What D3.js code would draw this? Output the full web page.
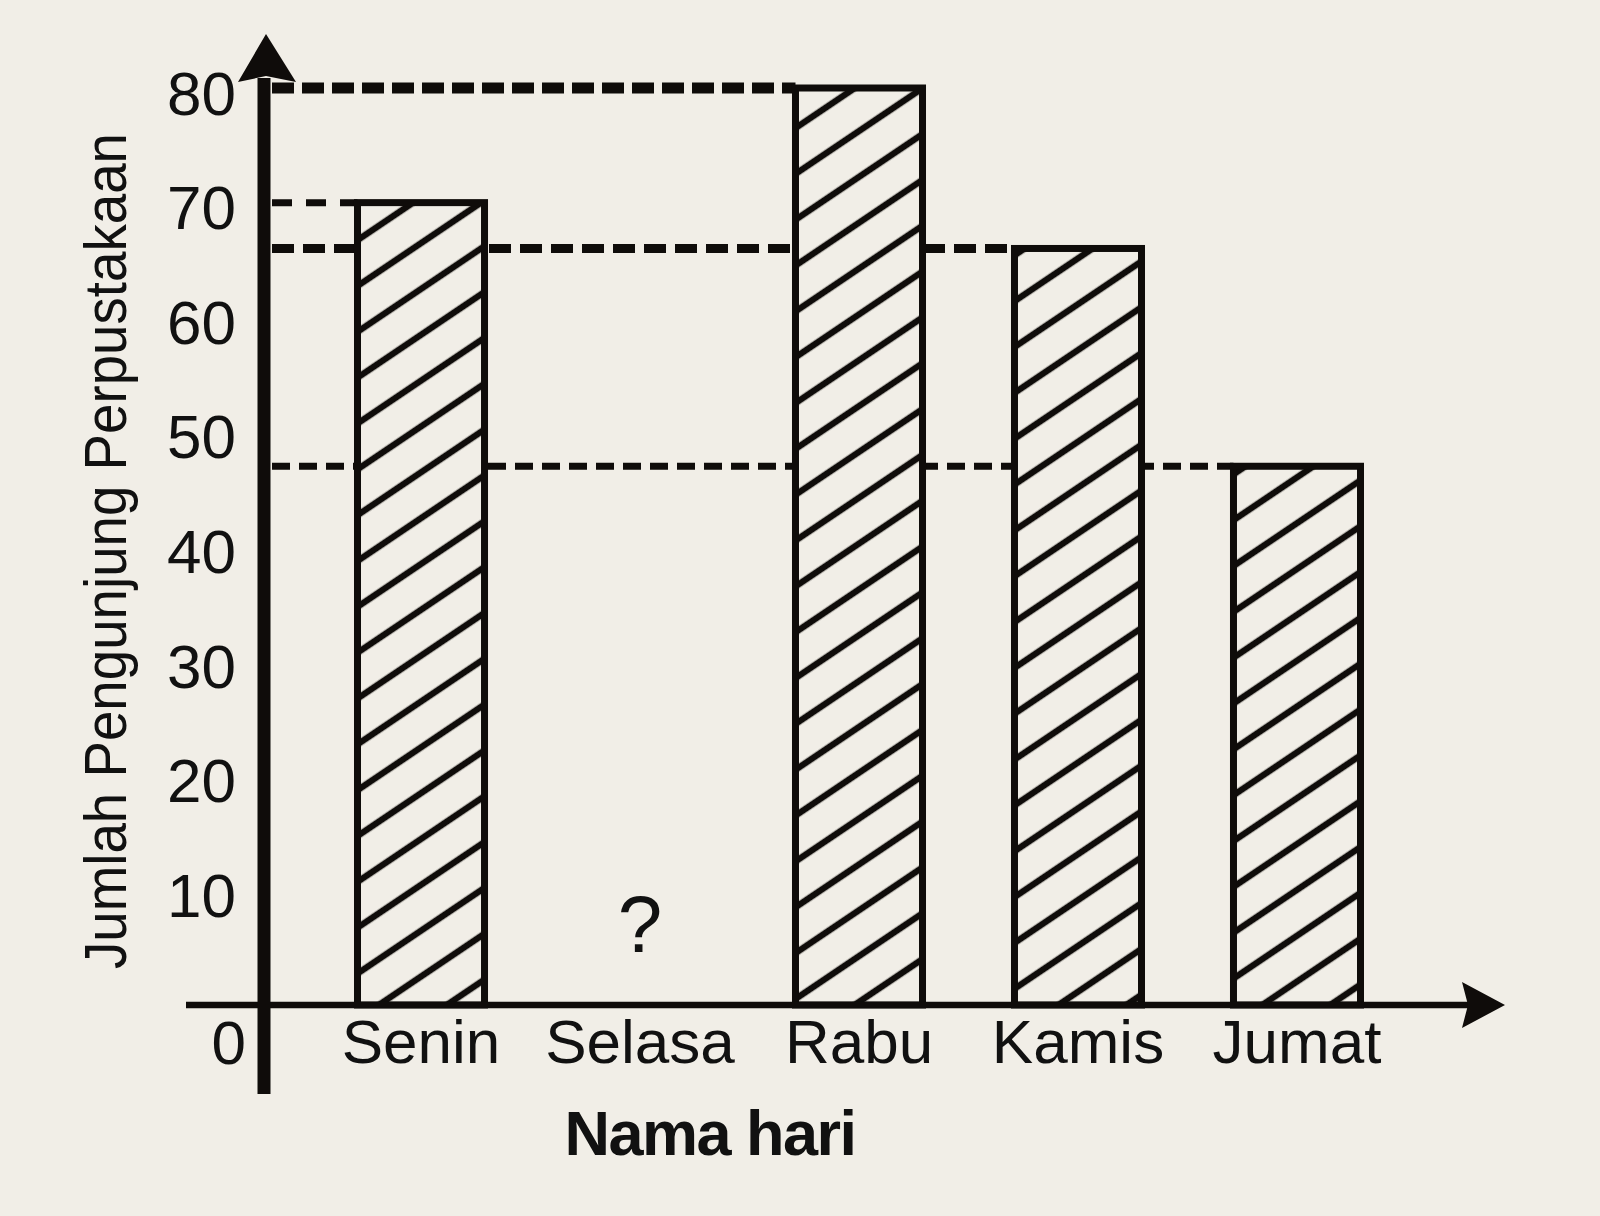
<!DOCTYPE html>
<html>
<head>
<meta charset="utf-8">
<script src="https://cdn.jsdelivr.net/npm/d3@7"></script>
<style>
  html, body { margin: 0; padding: 0; background: #f1eee7; }
  svg { display: block; }
  text { font-family: "Liberation Sans", Arial, sans-serif; fill: #111; }
</style>
</head>
<body>
<svg width="1600" height="1216"></svg>
<script>
// data (Selasa is the unknown "?")
var days = ["Senin", "Selasa", "Rabu", "Kamis", "Jumat"];
var visitors = [70, null, 80, 66, 47];
var yTicks = [0, 10, 20, 30, 40, 50, 60, 70, 80];

var ink = "#0f0c0a";
var paper = "#f1eee7";

var svg = d3.select("svg");

var x = d3.scaleBand().domain(days).range([248, 1470]).paddingInner(0.42).paddingOuter(0.5);
var y = d3.scaleLinear().domain([0, 80]).range([1005, 88]);

// hatch pattern
var defs = svg.append("defs");
var pat = defs.append("pattern")
  .attr("id", "hatch")
  .attr("patternUnits", "userSpaceOnUse")
  .attr("width", 20)
  .attr("height", 38)
  .attr("patternTransform", "rotate(-34)");
pat.append("rect").attr("width", 20).attr("height", 38).attr("fill", paper);
pat.append("line")
  .attr("x1", 0).attr("x2", 20)
  .attr("y1", 19).attr("y2", 19)
  .attr("stroke", ink)
  .attr("stroke-width", 6.5);

var bars = days.map(function(d, i) { return {day: d, val: visitors[i]}; })
  .filter(function(d) { return d.val !== null; });

// dashed guide lines from the y axis to each bar
var guideStyle = {
  80: {w: 11, dash: "22,8"},
  70: {w: 7, dash: "20,14"},
  66: {w: 9, dash: "22,9"},
  47: {w: 7, dash: "18,9"}
};
svg.append("g").selectAll("line")
  .data(bars)
  .enter()
  .append("line")
  .attr("x1", 272)
  .attr("x2", function(d) { return x(d.day); })
  .attr("y1", function(d) { return y(d.val); })
  .attr("y2", function(d) { return y(d.val); })
  .attr("stroke", ink)
  .attr("stroke-width", function(d) { return guideStyle[d.val] ? guideStyle[d.val].w : 7; })
  .attr("stroke-dasharray", function(d) { return guideStyle[d.val] ? guideStyle[d.val].dash : "18,9"; });

// bars
svg.append("g").selectAll("rect")
  .data(bars)
  .enter()
  .append("rect")
  .attr("x", function(d) { return x(d.day); })
  .attr("y", function(d) { return y(d.val); })
  .attr("width", x.bandwidth())
  .attr("height", function(d) { return y(0) - y(d.val); })
  .attr("fill", "url(#hatch)")
  .attr("stroke", ink)
  .attr("stroke-width", 7);

// unknown value
svg.append("text")
  .attr("x", x("Selasa") + x.bandwidth() / 2)
  .attr("y", 952)
  .attr("text-anchor", "middle")
  .style("font-size", "80px")
  .text("?");

// x axis line + arrow
svg.append("line")
  .attr("x1", 186).attr("x2", 1470)
  .attr("y1", y(0)).attr("y2", y(0))
  .attr("stroke", ink).attr("stroke-width", 6.5);
svg.append("path")
  .attr("d", "M1505," + y(0) + " L1462," + (y(0) - 23) + " L1468," + y(0) + " L1462," + (y(0) + 23) + " Z")
  .attr("fill", ink);

// y axis line + arrow
svg.append("line")
  .attr("x1", 264).attr("x2", 264)
  .attr("y1", 1094).attr("y2", 78)
  .attr("stroke", ink).attr("stroke-width", 13);
svg.append("path")
  .attr("d", "M266,34 L238,82 L266,76 L296,82 Z")
  .attr("fill", ink);

// y tick labels
var yAxis = svg.append("g")
  .attr("transform", "translate(236,0)")
  .call(d3.axisLeft(y).tickValues(yTicks).tickSize(0).tickPadding(0));
yAxis.select(".domain").remove();
yAxis.selectAll("text")
  .style("font-size", "62px")
  .style("font-family", "'Liberation Sans', Arial, sans-serif")
  .attr("fill", "#111")
  .attr("dy", function(d) { return d === 0 ? "0.95em" : "0.42em"; })
  .attr("x", function(d) { return d === 0 ? 10 : 0; });

// x category labels
var xAxis = svg.append("g")
  .attr("transform", "translate(0," + y(0) + ")")
  .call(d3.axisBottom(x).tickSize(0).tickPadding(14));
xAxis.select(".domain").remove();
xAxis.selectAll("text")
  .style("font-size", "62px")
  .style("font-family", "'Liberation Sans', Arial, sans-serif")
  .attr("fill", "#111");

// axis titles
svg.append("text")
  .attr("x", 710)
  .attr("y", 1155)
  .attr("text-anchor", "middle")
  .style("font-size", "63px")
  .style("font-weight", "bold")
  .style("letter-spacing", "-1.5px")
  .text("Nama hari");

svg.append("text")
  .attr("transform", "translate(126,551) rotate(-90)")
  .attr("text-anchor", "middle")
  .attr("textLength", 836)
  .attr("lengthAdjust", "spacingAndGlyphs")
  .style("font-size", "59px")
  .text("Jumlah Pengunjung Perpustakaan");
</script>
</body>
</html>
